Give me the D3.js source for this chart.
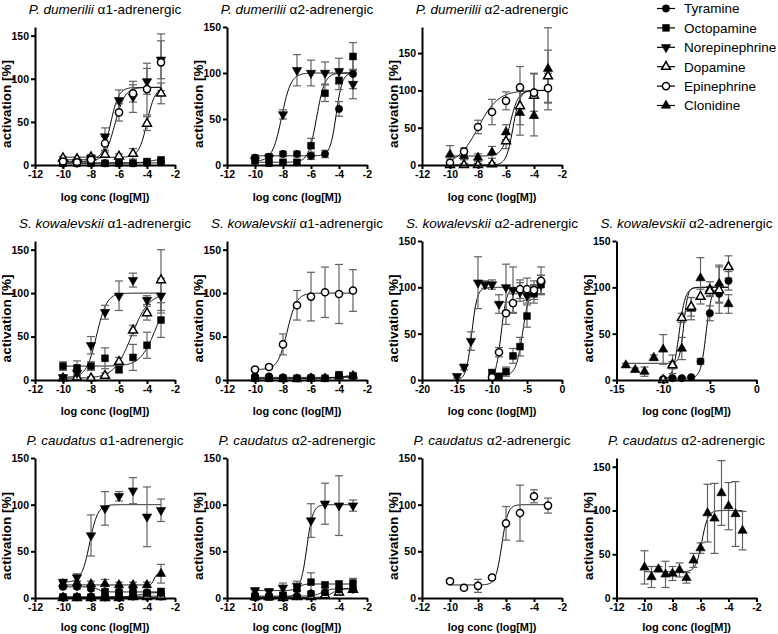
<!DOCTYPE html>
<html><head><meta charset="utf-8">
<script src="https://cdn.jsdelivr.net/npm/d3@7"></script>
<style>body{margin:0;background:#fff}svg{display:block}</style>
</head><body>
<svg id="c" width="778" height="634"></svg>
<script>
// ---------- DATA ----------
const seriesNames = ["Tyramine","Octopamine","Norepinephrine","Dopamine","Epinephrine","Clonidine"];
const xStd = [-10,-9,-8,-7,-6,-5,-4,-3];
const xSkNE = [-15,-14,-13,-12,-11,-10,-9,-8,-7,-6,-5,-4,-3];
const xSkClo = [-14,-13,-12,-11,-10,-9,-8,-7,-6,-5,-4,-3];
const xHalf = [-10,-9.5,-9,-8.5,-8,-7.5,-7,-6.5,-6,-5.5,-5,-4.5,-4,-3.5,-3];
// fit = [bottom, top, logEC50, hill]
const pdA1 = [
  {s:"Tyramine", x:xStd, y:[3,3,2,2,2,2,2,3], e:[2,2,1,1,1,1,1,2], fit:[2.5,2.5,-6,1]},
  {s:"Octopamine", x:xStd, y:[2,2,2,2,2,2,4,6], e:[1,1,1,1,1,1,2,2], fit:[2,7,-3.8,1]},
  {s:"Dopamine", x:xStd, y:[8,7,9,12,10,13,48,83], e:[2,2,2,3,3,6,8,12], fit:[9,90,-4.0,1.5]},
  {s:"Norepinephrine", x:xStd, y:[2,3,8,33,75,79,97,122], e:[2,2,4,10,12,18,15,22], fit:[6,90,-6.6,1.5]},
  {s:"Epinephrine", x:xStd, y:[4,3,6,25,61,83,88,119], e:[2,2,3,8,10,10,30,33], fit:[4,90,-6.3,1.2]}
];
const pdA2a = [
  {s:"Tyramine", x:xStd, y:[8,9,12,12,10,12,61,99], e:[3,3,3,3,4,4,8,16], fit:[10,100,-4.2,2]},
  {s:"Octopamine", x:xStd, y:[5,2,3,3,21,78,92,118], e:[3,2,2,2,8,9,10,15], fit:[3,100,-5.6,1.5]},
  {s:"Norepinephrine", x:xStd, y:[5,8,55,103,100,100,102,88], e:[4,4,5,17,14,12,14,16], fit:[4,100,-8.1,1.3]}
];
const pdA2b = [
  {s:"Dopamine", x:xStd, y:[0,0,0,1,32,79,93,119], e:[2,2,2,2,10,25,30,35], fit:[0,100,-5.5,1.8]},
  {s:"Clonidine", x:xStd, y:[14,12,10,17,44,70,66,129], e:[12,5,5,8,10,30,27,55], fit:[12,100,-5.7,1.5]},
  {s:"Epinephrine", x:xStd, y:[3,18,51,71,86,104,97,103], e:[5,5,9,17,12,28,25,20], fit:[0,100,-8.0,0.6]}
];
const skA1a = [
  {s:"Octopamine", x:xStd, y:[16,14,16,25,12,26,40,69], e:[5,8,5,12,4,15,15,20], fit:[16,100,-3.4,0.8]},
  {s:"Dopamine", x:xStd, y:[2,3,2,5,21,57,77,115], e:[2,2,2,3,5,6,8,35], fit:[2,100,-5.1,0.7]},
  {s:"Norepinephrine", x:xStd, y:[3,8,40,78,97,115,92,97], e:[3,5,10,8,17,8,5,20], fit:[3,100,-7.6,1.2]}
];
const skA1b = [
  {s:"Tyramine", x:xStd, y:[4,4,3,2,3,2,5,4], e:[1,1,1,1,1,1,2,2], fit:[3,3,-6,1]},
  {s:"Octopamine", x:xStd, y:[2,2,2,2,2,2,6,5], e:[1,1,1,1,1,1,2,2], fit:[2,5,-4,1]},
  {s:"Clonidine", x:xStd, y:[2,2,1,1,2,2,4,5], e:[1,1,1,1,1,1,2,2], fit:[1.5,5,-4,1]},
  {s:"Epinephrine", x:xStd, y:[12,15,41,86,96,101,99,103], e:[2,2,12,17,28,29,34,24], fit:[12,100,-7.7,1.3]}
];
const skA2a = [
  {s:"Octopamine", x:xStd, y:[8,4,9,26,36,69,93,103], e:[3,2,5,8,10,12,10,10], fit:[5,100,-5.6,0.9]},
  {s:"Norepinephrine", x:xSkNE, y:[4,14,42,105,103,103,82,100,97,95,91,97,103], e:[2,3,10,28,4,5,10,25,25,10,8,5,10], fit:[0,100,-12.9,1.1]},
  {s:"Epinephrine", x:xStd, y:[3,30,72,83,98,98,97,107], e:[2,5,12,10,10,12,10,15], fit:[0,100,-8.7,1.1]}
];
const skA2b = [
  {s:"Tyramine", x:xStd, y:[1,2,2,3,20,72,93,107], e:[1,1,1,1,3,8,10,10], fit:[2,100,-5.4,1.5]},
  {s:"Clonidine", x:xSkClo, y:[16,11,9,24,33,17,34,77,110,98,104,82], e:[2,2,5,3,16,10,12,12,22,8,20,10], fit:[18,100,-7.8,2.0]},
  {s:"Dopamine", x:xStd, y:[0,16,67,79,90,96,97,122], e:[2,4,5,10,8,5,25,12], fit:[0,100,-8.3,1.3]}
];
const pcA1 = [
  {s:"Dopamine", x:xStd, y:[0,0,0,0,0,1,1,1], e:[1,1,1,1,1,1,1,1], fit:[0.5,0.5,-6,1]},
  {s:"Epinephrine", x:xStd, y:[1,1,1,1,1,2,2,2], e:[1,1,1,1,1,1,1,1], fit:[1,2,-5,1]},
  {s:"Octopamine", x:xStd, y:[1,1,1,1,2,3,5,7], e:[1,1,1,1,1,2,2,3], fit:[1,6,-4.5,1]},
  {s:"Tyramine", x:xStd, y:[12,12,10,7,7,8,6,5], e:[2,2,2,2,2,2,2,2], fit:[12,6.5,-7.5,2]},
  {s:"Clonidine", x:xStd, y:[15,16,15,15,14,14,14,26], e:[2,2,3,5,3,3,3,10], fit:[14,26,-3.5,5]},
  {s:"Norepinephrine", x:xStd, y:[17,22,67,96,109,115,87,94], e:[3,4,22,18,5,14,32,12], fit:[17,100,-8.1,1.5]}
];
const pcA2a = [
  {s:"Dopamine", x:xStd, y:[1,1,0,1,1,3,6,9], e:[1,1,1,1,1,2,3,3], fit:[0.5,10,-4.5,1.5]},
  {s:"Tyramine", x:xStd, y:[3,2,2,2,5,6,9,9], e:[1,1,1,1,2,2,3,3], fit:[2,10,-5.2,1.5]},
  {s:"Octopamine", x:xStd, y:[1,1,3,10,17,14,15,16], e:[1,1,2,3,10,3,3,5], fit:[1,15,-7.0,2.5]},
  {s:"Norepinephrine", x:xStd, y:[8,7,11,13,83,101,99,99], e:[3,3,5,5,18,22,32,6], fit:[8,100,-6.3,2]}
];
const pcA2b = [
  {s:"Epinephrine", x:xStd, y:[18,11,13,22,80,91,109,99], e:[2,2,7,2,18,30,7,8], fit:[14,100,-6.3,2]}
];
const pcA2c = [
  {s:"Clonidine", x:xHalf, y:[35,24,33,27,28,32,23,43,57,97,91,120,105,96,77], e:[19,12,3,15,8,8,6,8,6,33,40,37,27,37,22], fit:[30,100,-5.9,2]}
];
const ticks12 = [-12,-10,-8,-6,-4,-2];
const ticks20 = [-20,-15,-10,-5,0];
const ticks15 = [-15,-10,-5,0];
const yTicks = [0,50,100,150];

// ---------- LAYOUT ----------
const colLeft = [35,227,422,616.5];
const plotW = 140;
const rows = [{top:27,bottom:165,titleY:14,xtY:36},{top:241,bottom:380,titleY:228,xtY:35},{top:458,bottom:598,titleY:445,xtY:33}];
const panels = [
  {sp:"P. dumerilii", rc:"α1-adrenergic", c:0,r:0, xd:[-12,-2], xt:ticks12, ymax:160, data:pdA1},
  {sp:"P. dumerilii", rc:"α2-adrenergic", c:1,r:0, xd:[-12,-2], xt:ticks12, ymax:150, data:pdA2a},
  {sp:"P. dumerilii", rc:"α2-adrenergic", c:2,r:0, xd:[-12,-2], xt:ticks12, ymax:185, data:pdA2b},
  {sp:"S. kowalevskii", rc:"α1-adrenergic", c:0,r:1, xd:[-12,-2], xt:ticks12, ymax:160, data:skA1a},
  {sp:"S. kowalevskii", rc:"α1-adrenergic", c:1,r:1, xd:[-12,-2], xt:ticks12, ymax:160, data:skA1b},
  {sp:"S. kowalevskii", rc:"α2-adrenergic", c:2,r:1, xd:[-20,0], xt:ticks20, ymax:150, data:skA2a},
  {sp:"S. kowalevskii", rc:"α2-adrenergic", c:3,r:1, xd:[-15,0], xt:ticks15, ymax:150, data:skA2b},
  {sp:"P. caudatus", rc:"α1-adrenergic", c:0,r:2, xd:[-12,-2], xt:ticks12, ymax:150, data:pcA1},
  {sp:"P. caudatus", rc:"α2-adrenergic", c:1,r:2, xd:[-12,-2], xt:ticks12, ymax:150, data:pcA2a},
  {sp:"P. caudatus", rc:"α2-adrenergic", c:2,r:2, xd:[-12,-2], xt:ticks12, ymax:150, data:pcA2b},
  {sp:"P. caudatus", rc:"α2-adrenergic", c:3,r:2, xd:[-12,-2], xt:ticks12, ymax:160, data:pcA2c}
];
const FONT = "'Liberation Sans', Arial, Helvetica, sans-serif";
const ERRC = "#626262";
const sym = {
  Tyramine:{t:d3.symbolCircle, size:42, open:false, rot:0},
  Octopamine:{t:d3.symbolSquare, size:46, open:false, rot:0},
  Norepinephrine:{t:d3.symbolTriangle, size:38, open:false, rot:180},
  Dopamine:{t:d3.symbolTriangle, size:34, open:true, rot:0},
  Epinephrine:{t:d3.symbolCircle, size:40, open:true, rot:0},
  Clonidine:{t:d3.symbolTriangle, size:38, open:false, rot:0}
};
const logistic = (x,f) => f[0] + (f[1]-f[0])/(1+Math.pow(10,(f[2]-x)*f[3]));

const svg = d3.select("#c");
function drawMarker(g, name, cx, cy){
  const d = sym[name];
  g.append("path").attr("d", d3.symbol().type(d.t).size(d.size)())
    .attr("transform", `translate(${cx},${cy}) rotate(${d.rot})`)
    .attr("fill", d.open ? "#fff" : "#000")
    .attr("stroke", "#000").attr("stroke-width", d.open ? 1.5 : 0.6);
}

panels.forEach(p => {
  const L = colLeft[p.c], R = L + plotW, row = rows[p.r];
  const x = d3.scaleLinear().domain(p.xd).range([L,R]);
  const y = d3.scaleLinear().domain([0,p.ymax]).range([row.bottom,row.top]);
  const g = svg.append("g");

  // title
  const t = g.append("text").attr("x",(L+R)/2).attr("y",row.titleY).attr("text-anchor","middle")
    .attr("font-family",FONT).attr("font-size",13.5);
  t.append("tspan").attr("font-style","italic").text(p.sp);
  t.append("tspan").text(" " + p.rc);

  // curves
  const line = d3.line().x(d=>x(d[0])).y(d=>y(d[1]));
  p.data.forEach(s => {
    const x0 = d3.min(s.x), x1 = d3.max(s.x);
    const pts = d3.range(x0, x1+0.001, (x1-x0)/200).map(v=>[v, logistic(v,s.fit)]);
    g.append("path").attr("d", line(pts)).attr("fill","none").attr("stroke","#000").attr("stroke-width",1);
  });
  // error bars
  p.data.forEach(s => {
    s.x.forEach((xv,i) => {
      const e = s.e[i]; if(!e) return;
      const cx = x(xv), y1 = y(s.y[i]+e), y2 = y(Math.max(0,s.y[i]-e));
      g.append("line").attr("x1",cx).attr("x2",cx).attr("y1",y1).attr("y2",y2).attr("stroke",ERRC).attr("stroke-width",1.2);
      [y1,y2].forEach(yy => g.append("line").attr("x1",cx-4).attr("x2",cx+4).attr("y1",yy).attr("y2",yy).attr("stroke",ERRC).attr("stroke-width",1.2));
    });
  });
  // markers
  p.data.forEach(s => {
    s.x.forEach((xv,i) => drawMarker(g, s.s, x(xv), y(s.y[i])));
  });

  // axes
  const ax = g.append("g").attr("transform",`translate(0,${row.bottom})`)
    .call(d3.axisBottom(x).tickValues(p.xt).tickSize(4).tickSizeOuter(0).tickPadding(2).tickFormat(d=>String(d)));
  const ay = g.append("g").attr("transform",`translate(${L},0)`)
    .call(d3.axisLeft(y).tickValues(yTicks).tickSize(4).tickSizeOuter(0).tickPadding(2).tickFormat(d=>String(d)));
  [ax,ay].forEach(a => {
    a.select(".domain").attr("stroke","#000").attr("stroke-width",2);
    a.selectAll(".tick line").attr("stroke","#000").attr("stroke-width",2);
    a.selectAll(".tick text").attr("fill","#000").attr("font-family",FONT).attr("font-weight","bold").attr("font-size",10.5);
  });
  // axis titles
  g.append("text").attr("x",(L+R)/2).attr("y",row.bottom+row.xtY).attr("text-anchor","middle")
    .attr("font-family",FONT).attr("font-weight","bold").attr("font-size",11).text("log conc (log[M])");
  const ymid = (row.top+row.bottom)/2 + 8;
  g.append("text").attr("transform",`translate(${L-24},${ymid}) rotate(-90)`).attr("text-anchor","middle")
    .attr("font-family",FONT).attr("font-weight","bold").attr("font-size",13.5).text("activation [%]");
});

// legend
const lg = svg.append("g");
seriesNames.forEach((n,i) => {
  const cy = 8.5 + i*19.4;
  lg.append("line").attr("x1",657).attr("x2",675).attr("y1",cy).attr("y2",cy).attr("stroke","#000").attr("stroke-width",1.2);
  drawMarker(lg, n, 666, cy);
  lg.append("text").attr("x",684).attr("y",cy+4.8).attr("font-family",FONT).attr("font-size",13.5).text(n);
});
</script>
</body></html>
